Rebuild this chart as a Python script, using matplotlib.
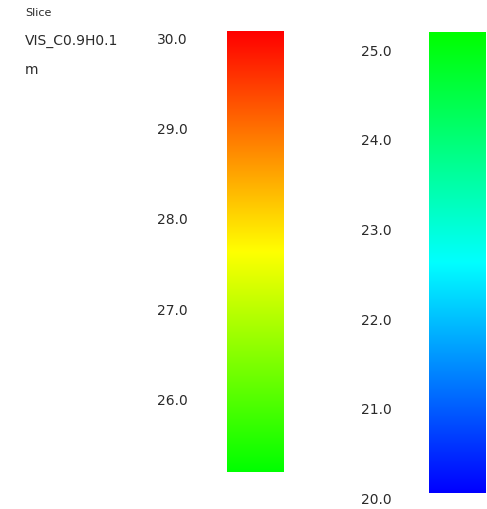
import numpy as np
import matplotlib
matplotlib.use("Agg")
import matplotlib.pyplot as plt
from matplotlib.colors import LinearSegmentedColormap

# figure size in pixels
W, H = 487, 509

# title lines at the top left
title_lines = ["Slice", "VIS_C0.9H0.1", "m"]

# upper half of the split colorbar
left_ticks = [30.0, 29.0, 28.0, 27.0, 26.0]
left_range = (25.21, 30.09)
left_colors = ["#00ff00", "#ffff00", "#ff0000"]

# lower half of the split colorbar
right_ticks = [25.0, 24.0, 23.0, 22.0, 21.0, 20.0]
right_range = (20.075, 25.205)
right_colors = ["#0000ff", "#00ffff", "#00ff00"]

fig = plt.figure(figsize=(W / 100, H / 100), dpi=100)
fig.patch.set_facecolor("white")

# title text
title_sizes = [8, 10, 10]
for i, line in enumerate(title_lines):
    fig.text(25 / W, 1 - (13 + i * 28.5) / H, line, fontsize=title_sizes[i],
             color="#2a2a2a", ha="left", va="center", family="DejaVu Sans")


def draw_bar(x_lab, x0, x1, ticks, vrange, colors, top_val, top_px, px_per_unit):
    """one colorbar axes, y in data units placed at the reference pixel spots"""
    ax = fig.add_axes([0, 0, 1, 1], facecolor="none")
    ax.set_xlim(0, W)
    ymax = top_val + top_px / px_per_unit
    ymin = top_val - (H - top_px) / px_per_unit
    ax.set_ylim(ymin, ymax)
    ax.axis("off")
    cmap = LinearSegmentedColormap.from_list("bar", colors)
    grad = np.linspace(0, 1, 256).reshape(-1, 1)
    ax.imshow(grad, cmap=cmap, origin="lower", aspect="auto",
              extent=[x0, x1, vrange[0], vrange[1]], interpolation="bilinear")
    for t in ticks:
        ax.text(x_lab, t, f"{t:.1f}", fontsize=10, color="#2a2a2a",
                ha="left", va="center", family="DejaVu Sans")
    return ax


draw_bar(157, 226.7, 283.3, left_ticks, left_range, left_colors, 30.0, 40.0, 90.2)
draw_bar(360.5, 429.0, 486.0, right_ticks, right_range, right_colors, 25.0, 51.7, 89.7)

fig.savefig("out.png", dpi=100, facecolor="white")
